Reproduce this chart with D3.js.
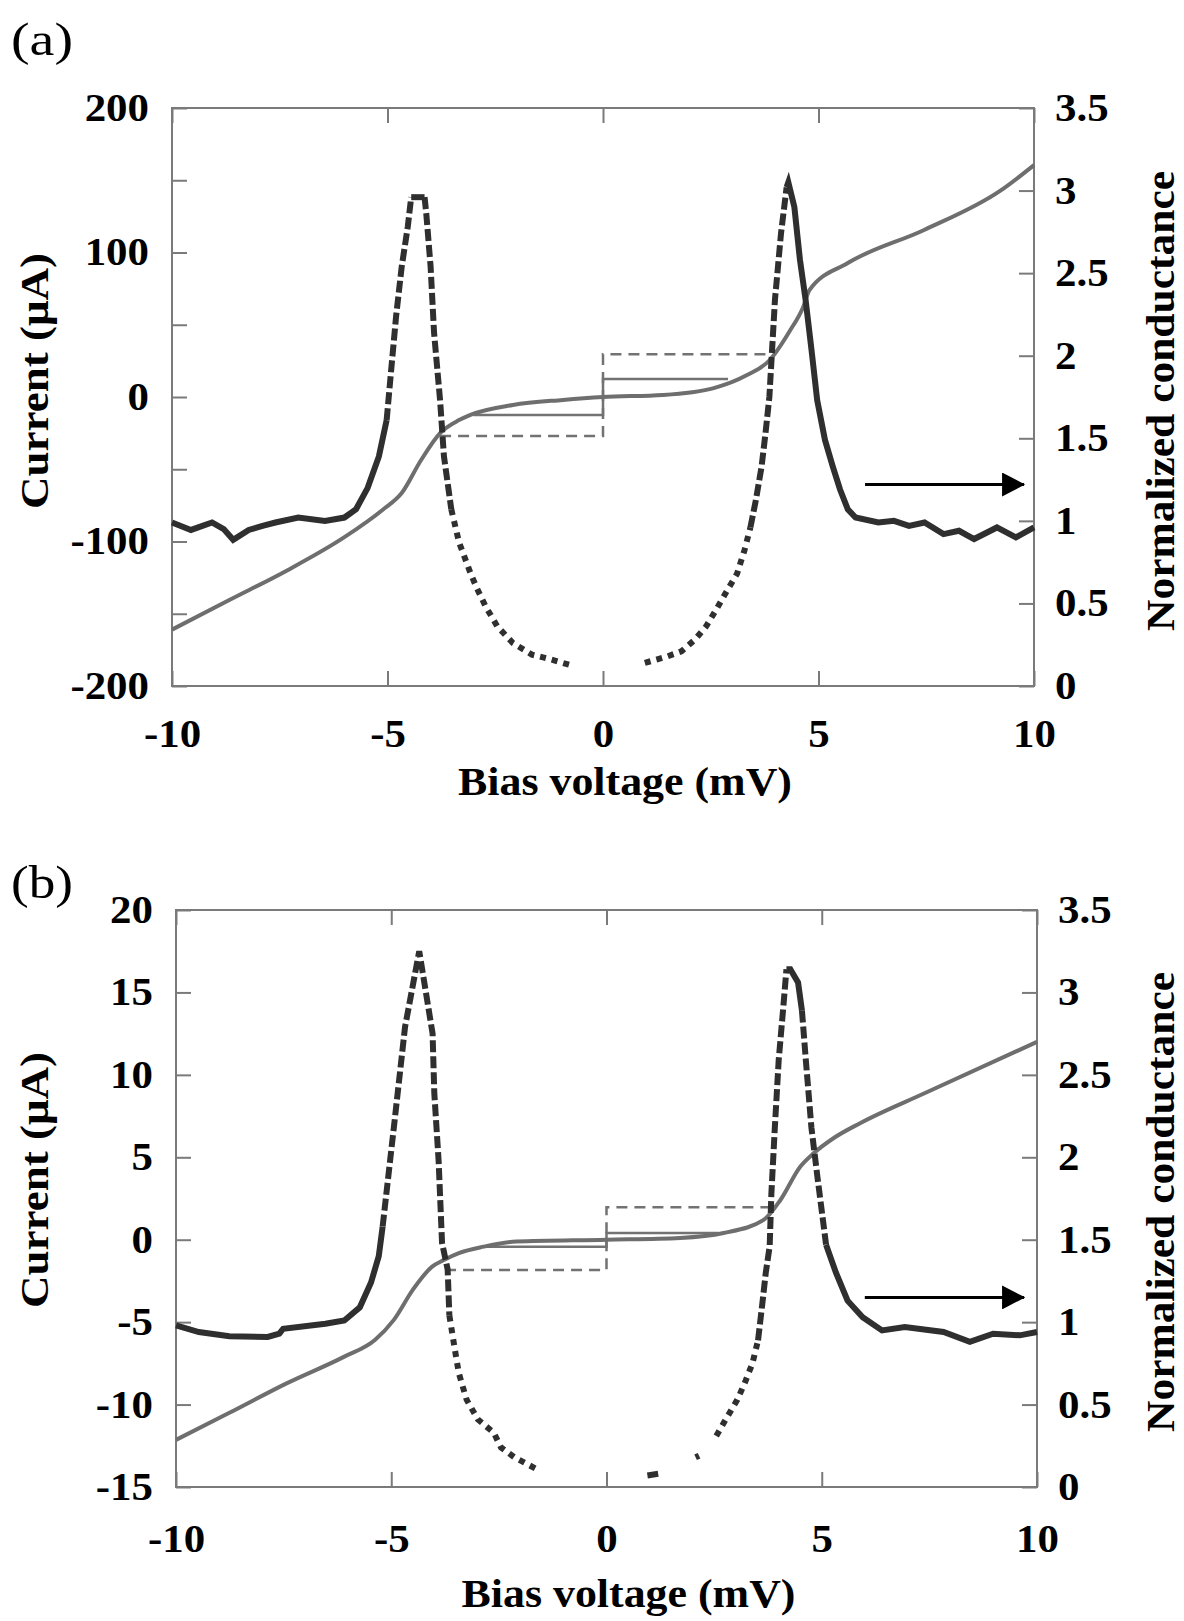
<!DOCTYPE html>
<html>
<head>
<meta charset="utf-8">
<script src="https://d3js.org/d3.v7.min.js"></script>
<style>
    body { margin: 0; background: #fff; }
    svg text { font-family: "Liberation Serif", "Times New Roman", serif; fill: #000; }
</style>
</head>
<body>
<svg id="chart" width="1184" height="1621"></svg>
<script>
    // ---- data ----
    // panel (a): normalized conductance [V (mV), G]
    var condA = [[-10, 0.99], [-9.56, 0.945], [-9.07, 0.99], [-8.8, 0.95], [-8.58, 0.885], [-8.22, 0.945], [-7.9, 0.97],
        [-7.6, 0.99], [-7.07, 1.02], [-6.45, 1.0], [-6.0, 1.02], [-5.73, 1.07], [-5.46, 1.2], [-5.2, 1.39], [-5.02, 1.61],
        [-4.93, 1.87], [-4.8, 2.24], [-4.67, 2.54], [-4.53, 2.78], [-4.45, 2.96], [-4.14, 2.96], [-4.1, 2.86], [-4.0, 2.54],
        [-3.92, 2.14], [-3.78, 1.73], [-3.69, 1.39], [-3.52, 1.07], [-3.34, 0.87], [-3.07, 0.68], [-2.94, 0.6], [-2.72, 0.48],
        [-2.45, 0.36], [-2.09, 0.26], [-1.65, 0.19], [-1.2, 0.16], [-0.67, 0.12],
        [0.97, 0.14], [1.24, 0.16], [1.5, 0.18], [1.82, 0.21], [2.13, 0.28], [2.39, 0.36], [2.62, 0.46], [2.84, 0.56],
        [3.11, 0.68], [3.28, 0.82], [3.42, 0.96], [3.55, 1.13], [3.68, 1.33], [3.77, 1.53], [3.86, 1.75], [3.99, 2.34],
        [4.13, 2.74], [4.26, 3.02], [4.3, 3.05], [4.44, 2.9], [4.57, 2.58], [4.7, 2.34], [4.84, 2.03], [4.97, 1.73],
        [5.15, 1.49], [5.33, 1.33], [5.5, 1.19], [5.68, 1.07], [5.86, 1.02], [6.39, 0.99], [6.75, 1.0], [7.1, 0.97],
        [7.46, 0.99], [7.9, 0.92], [8.26, 0.94], [8.61, 0.89], [9.14, 0.96], [9.58, 0.9], [10, 0.96]];
    // panel (a): current [V (mV), I (uA)]
    var currA = [[-10, -161], [-8.67, -140.5], [-7.33, -120], [-6.0, -97], [-5.11, -78], [-4.67, -66.5], [-4.22, -43.6],
        [-3.78, -25], [-3.34, -16], [-3.09, -12.5], [-2.09, -5.5], [-0.93, -2], [0, 0], [1.39, 1.4], [2.55, 6], [3.33, 15],
        [3.87, 25.6], [4.34, 46], [4.64, 62], [4.79, 74], [5.68, 92.7], [7.45, 115.6], [9.23, 143], [10, 160.5]];
    var stepSolidA = [[-3.0, -12.5], [0, -12.5], [0, 12.5], [2.9, 12.5]];
    var stepDashA = [[-3.78, -27], [0, -27], [0, 29.5], [3.92, 29.5]];
    var arrowA = [[6.08, 1.22], [9.77, 1.22]];

    // panel (b)
    var condB = [[-10, 0.98], [-9.47, 0.94], [-8.76, 0.915], [-7.87, 0.91], [-7.6, 0.93], [-7.51, 0.96], [-6.53, 0.99],
        [-6.09, 1.01], [-5.73, 1.09], [-5.47, 1.24], [-5.29, 1.4], [-5.2, 1.58], [-4.94, 2.18], [-4.68, 2.79], [-4.35, 3.25],
        [-4.04, 2.75], [-4.0, 2.39], [-3.9, 1.98], [-3.82, 1.48], [-3.69, 1.32], [-3.65, 1.04], [-3.52, 0.83], [-3.43, 0.69],
        [-3.25, 0.53], [-2.99, 0.41], [-2.62, 0.33], [-2.45, 0.24], [-2.14, 0.18], [-1.56, 0.1],
        [0.95, 0.07], [1.2, 0.08], [2.07, 0.18], [2.15, 0.19],
        [2.55, 0.31], [2.77, 0.41], [3.04, 0.53], [3.21, 0.63], [3.39, 0.75], [3.52, 0.89], [3.61, 1.09], [3.7, 1.3],
        [3.79, 1.46], [3.83, 1.78], [3.91, 2.18], [4.0, 2.59], [4.1, 2.89], [4.18, 3.14], [4.27, 3.14], [4.45, 3.06],
        [4.54, 2.89], [4.63, 2.59], [4.76, 2.18], [4.9, 1.88], [5.1, 1.47], [5.33, 1.3], [5.6, 1.13], [5.95, 1.03],
        [6.4, 0.95], [6.93, 0.97], [7.83, 0.94], [8.44, 0.88], [8.98, 0.93], [9.6, 0.92], [10, 0.94]];
    var currB = [[-10, -12.14], [-8.76, -10.5], [-7.42, -8.7], [-6.09, -7.09], [-5.38, -6.08], [-4.94, -4.86],
        [-4.5, -3.04], [-4.05, -1.63], [-3.78, -1.23], [-3.43, -0.81], [-2.85, -0.42], [-2.09, -0.11], [0, 0], [1.71, 0.11],
        [2.72, 0.41], [3.65, 1.2], [4.04, 2.41], [4.5, 4.43], [4.81, 5.24], [5.28, 6.17], [5.89, 7.07], [7.4, 8.9], [10, 12.0]];
    var stepSolidB = [[-2.8, -0.42], [0, -0.42], [0, 0.4], [2.6, 0.4]];
    var stepDashB = [[-3.75, -1.83], [0, -1.83], [0, 1.97], [3.8, 1.97]];
    var arrowB = [[6.0, 1.15], [9.7, 1.15]];

    // ticks
    var xTicks = [-10, -5, 0, 5, 10];
    var condTicks = [0, 0.5, 1, 1.5, 2, 2.5, 3, 3.5];
    var currTicksA = [-200, -150, -100, -50, 0, 50, 100, 150, 200];
    var currLabelsA = [-200, -100, 0, 100, 200];
    var currTicksB = [-15, -10, -5, 0, 5, 10, 15, 20];

    // how the conductance trace looks along V: [from, to, style]
    var looksA = [[-10, -5.1, "solid"], [-5.1, -4.47, "dash"], [-4.47, -4.12, "solid"], [-4.12, -3.45, "dash"],
        [-3.45, -0.6, "dot"], [-0.6, 0.9, "none"], [0.9, 3.45, "dot"], [3.45, 4.25, "dash"], [4.25, 10, "solid"]];
    var looksB = [[-10, -5.2, "solid"], [-5.2, -4.45, "dash"], [-4.45, -4.25, "solid"], [-4.25, -3.6, "dash"],
        [-3.6, -1.5, "dot"], [-1.5, 0.9, "none"], [0.9, 1.25, "solid"], [1.25, 2.05, "none"], [2.05, 2.2, "solid"],
        [2.2, 2.5, "none"], [2.5, 3.55, "dot"], [3.55, 4.15, "dash"], [4.15, 4.5, "solid"], [4.5, 5.0, "dash"],
        [5.0, 10, "solid"]];
    var dashes = { solid: null, dash: "12,4", dot: "6,6" };

    var panels = [
        { tag: "(a)", tagY: 55, left: 172, right: 1034, top: 108, bottom: 686,
          iDomain: [-200, 200], iTicks: currTicksA, iLabels: currLabelsA,
          cond: condA, curr: currA, stepSolid: stepSolidA, stepDash: stepDashA, arrow: arrowA, looks: looksA,
          xLabelY: 61, xTitleY: 795, yTitleY: 381, rTitleY: 401 },
        { tag: "(b)", tagY: 898, left: 176, right: 1037, top: 910, bottom: 1487,
          iDomain: [-15, 20], iTicks: currTicksB, iLabels: currTicksB,
          cond: condB, curr: currB, stepSolid: stepSolidB, stepDash: stepDashB, arrow: arrowB, looks: looksB,
          xLabelY: 65, xTitleY: 1607, yTitleY: 1180, rTitleY: 1202 }
    ];

    var svg = d3.select("#chart");
    var frameColor = "#7a7a7a";
    var tickFont = 39;
    var tickStretch = 1.1;

    svg.append("defs").append("marker")
        .attr("id", "head")
        .attr("markerUnits", "userSpaceOnUse")
        .attr("viewBox", "0 -12 23 24")
        .attr("refX", 22)
        .attr("refY", 0)
        .attr("markerWidth", 23)
        .attr("markerHeight", 24)
        .attr("orient", "auto")
        .append("path")
        .attr("d", "M0,-12L23,0L0,12Z")
        .attr("fill", "#000");

    panels.forEach(drawPanel);

    function stretchTicks(sel) {
        sel.selectAll("text").each(function () {
            var t = d3.select(this);
            t.attr("x", (+t.attr("x") || 0) / tickStretch)
                .attr("transform", "scale(" + tickStretch + ",1)");
        });
    }

    function styleAxis(g) {
        g.attr("font-size", null).attr("font-family", null);
        g.select(".domain").remove();
        g.selectAll("line").attr("stroke", frameColor).attr("stroke-width", 2);
        g.selectAll("text").style("font-size", tickFont + "px").style("font-weight", "bold");
    }

    function drawPanel(p) {
        var x = d3.scaleLinear().domain([-10, 10]).range([p.left, p.right]);
        var yI = d3.scaleLinear().domain(p.iDomain).range([p.bottom, p.top]);
        var yG = d3.scaleLinear().domain([0, 3.5]).range([p.bottom, p.top]);
        var g = svg.append("g");

        // panel tag
        g.append("text")
            .attr("x", 11).attr("y", p.tagY)
            .attr("textLength", 62).attr("lengthAdjust", "spacingAndGlyphs")
            .style("font-size", "46px")
            .text(p.tag);

        // frame
        g.append("rect")
            .attr("x", p.left).attr("y", p.top)
            .attr("width", p.right - p.left).attr("height", p.bottom - p.top)
            .attr("fill", "none").attr("stroke", frameColor).attr("stroke-width", 2);

        // axes, ticks inside
        var left = g.append("g").attr("transform", "translate(" + p.left + ",0)")
            .call(d3.axisLeft(yI).tickValues(p.iTicks).tickSize(-15).tickPadding(23)
                .tickFormat(function (d) { return p.iLabels.indexOf(d) >= 0 ? String(d) : ""; }));
        styleAxis(left);
        stretchTicks(left);

        var right = g.append("g").attr("transform", "translate(" + p.right + ",0)")
            .call(d3.axisRight(yG).tickValues(condTicks).tickSize(-15).tickPadding(21)
                .tickFormat(function (d) { return String(d); }));
        styleAxis(right);
        stretchTicks(right);

        var bottom = g.append("g").attr("transform", "translate(0," + p.bottom + ")")
            .call(d3.axisBottom(x).tickValues(xTicks).tickSize(-15)
                .tickFormat(function (d) { return String(d); }));
        styleAxis(bottom);
        bottom.selectAll("text").attr("y", p.xLabelY).attr("dy", null);
        stretchTicks(bottom);

        var top = g.append("g").attr("transform", "translate(0," + p.top + ")")
            .call(d3.axisTop(x).tickValues(xTicks).tickSize(-15).tickFormat(""));
        styleAxis(top);

        // axis titles
        g.append("text")
            .attr("x", (p.left + p.right) / 2 + 22).attr("y", p.xTitleY)
            .attr("text-anchor", "middle")
            .attr("textLength", 334).attr("lengthAdjust", "spacingAndGlyphs")
            .style("font-size", "41px").style("font-weight", "bold")
            .text("Bias voltage (mV)");

        g.append("text")
            .attr("transform", "translate(48," + p.yTitleY + ") rotate(-90)")
            .attr("text-anchor", "middle")
            .attr("textLength", 256).attr("lengthAdjust", "spacingAndGlyphs")
            .style("font-size", "41px").style("font-weight", "bold")
            .text("Current (\u03bcA)");

        g.append("text")
            .attr("transform", "translate(1174," + p.rTitleY + ") rotate(-90)")
            .attr("text-anchor", "middle")
            .attr("textLength", 460).attr("lengthAdjust", "spacingAndGlyphs")
            .style("font-size", "41px").style("font-weight", "bold")
            .text("Normalized conductance");

        // current and step lines
        var lineI = d3.line().x(function (d) { return x(d[0]); }).y(function (d) { return yI(d[1]); });

        g.append("path").datum(p.stepSolid)
            .attr("d", lineI).attr("fill", "none")
            .attr("stroke", "#727272").attr("stroke-width", 2.5);

        g.append("path").datum(p.stepDash)
            .attr("d", lineI).attr("fill", "none")
            .attr("stroke", "#727272").attr("stroke-width", 2.5)
            .attr("stroke-dasharray", "11,7");

        g.append("path").datum(p.curr)
            .attr("d", lineI.curve(d3.curveMonotoneX)).attr("fill", "none")
            .attr("stroke", "#6e6e6e").attr("stroke-width", 4);

        // conductance, split into runs by how the trace looks
        var lineG = d3.line().x(function (d) { return x(d[0]); }).y(function (d) { return yG(d[1]); });
        var runs = [];
        var cur = null;
        for (var i = 1; i < p.cond.length; i++) {
            var a = p.cond[i - 1], b = p.cond[i];
            var s = lookAt(p.looks, (a[0] + b[0]) / 2);
            if (cur && cur.look === s) cur.pts.push(b);
            else { cur = { look: s, pts: [a, b] }; runs.push(cur); }
        }
        runs.filter(function (r) { return r.look !== "none"; }).forEach(function (r) {
            g.append("path").datum(r.pts)
                .attr("d", lineG).attr("fill", "none")
                .attr("stroke", "#2f2f2f").attr("stroke-width", 6)
                .attr("stroke-dasharray", dashes[r.look]);
        });

        // arrow pointing to the right axis
        g.append("path").datum(p.arrow)
            .attr("d", lineG).attr("fill", "none")
            .attr("stroke", "#000").attr("stroke-width", 3)
            .attr("marker-end", "url(#head)");
    }

    function lookAt(looks, v) {
        for (var i = 0; i < looks.length; i++) {
            if (v >= looks[i][0] && v <= looks[i][1]) return looks[i][2];
        }
        return "solid";
    }
</script>
</body>
</html>
